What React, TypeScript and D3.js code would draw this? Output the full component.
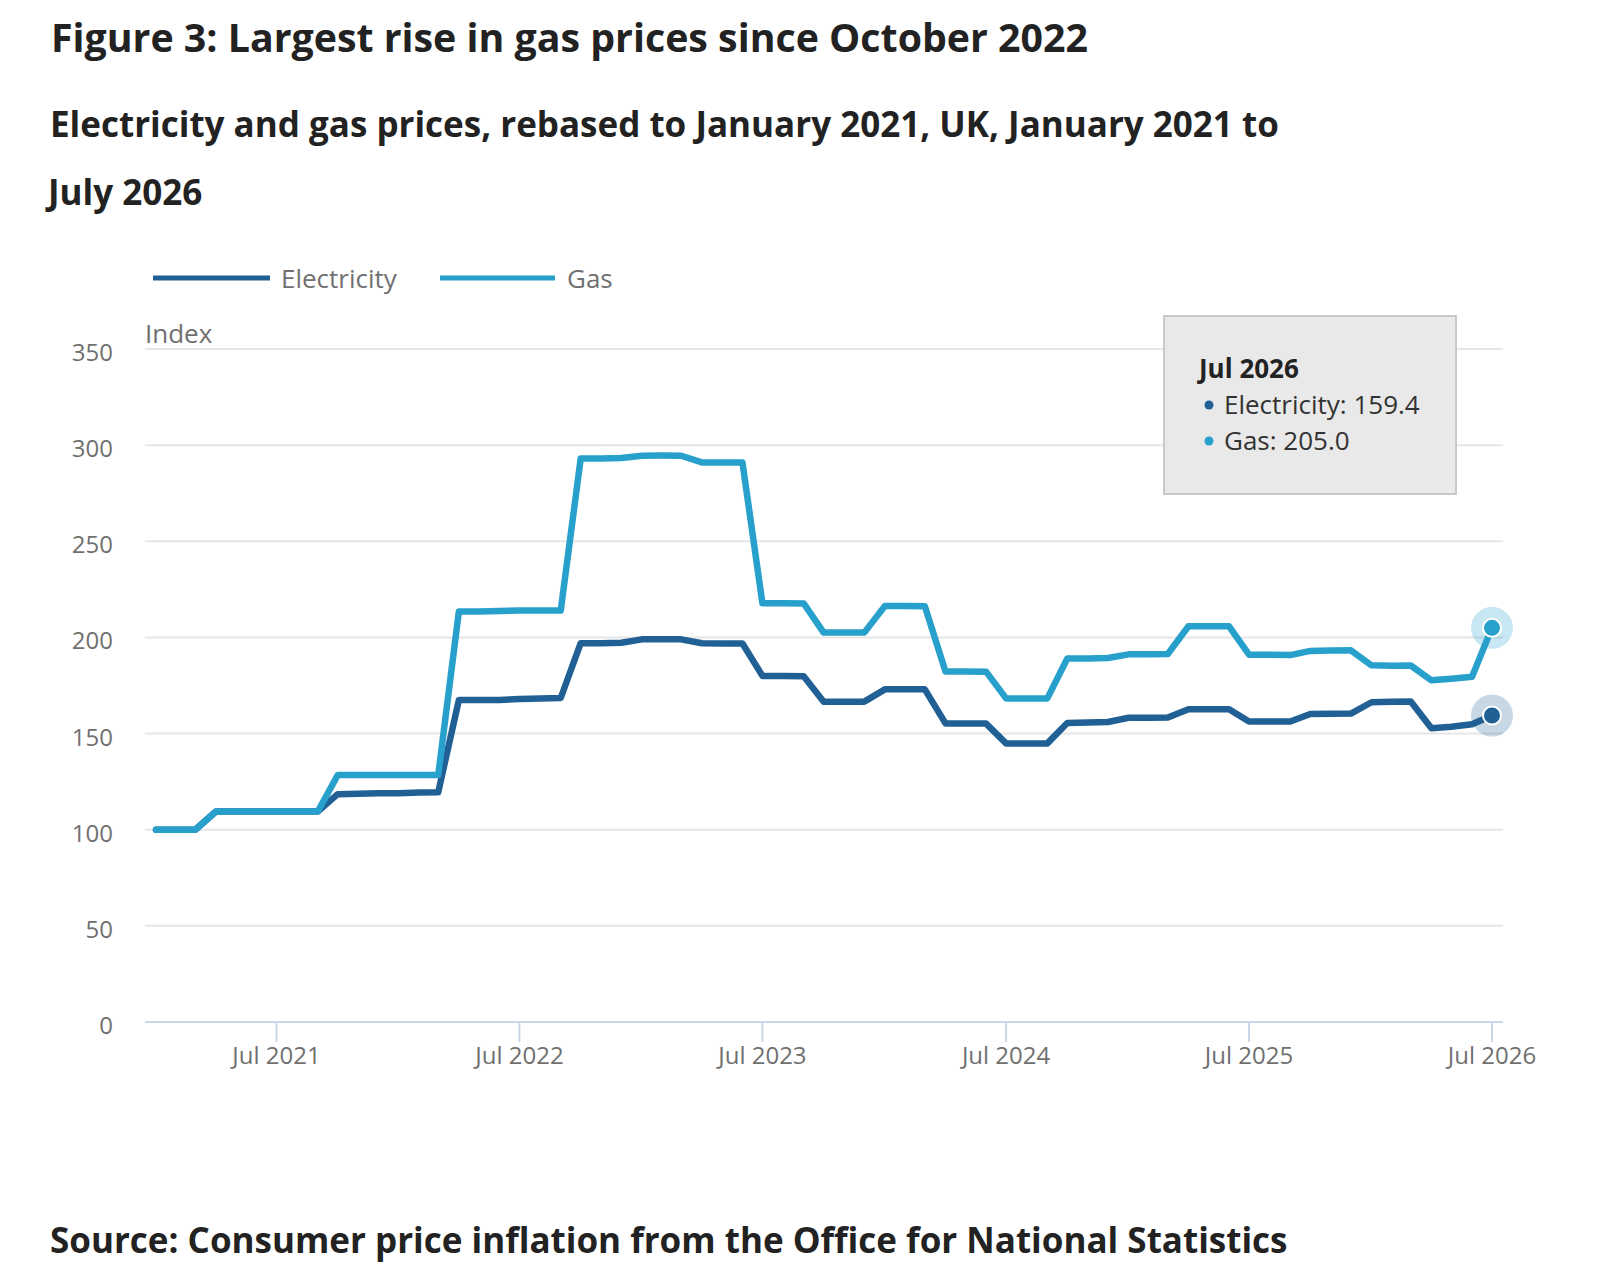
import * as d3 from 'd3'

const START = new Date(2021, 0, 1)
const END = new Date(2026, 6, 1)
const months = d3.timeMonths(START, new Date(2026, 7, 1))

const electricity = [
  100, 100, 100, 109.5, 109.5, 109.5, 109.5, 109.5, 109.5, 118.5, 118.7, 119,
  119, 119.3, 119.5, 167.5, 167.5, 167.5, 168, 168.3, 168.5, 197, 197, 197.2,
  199, 199, 199, 197, 196.8, 196.8, 180, 180, 179.8, 166.6, 166.6, 166.6,
  173, 173, 173, 155.3, 155.3, 155.2, 144.9, 144.9, 144.9, 155.5, 155.7, 156,
  158.2, 158.2, 158.3, 162.7, 162.7, 162.7, 156.3, 156.3, 156.3, 160.2, 160.3, 160.4,
  166.3, 166.5, 166.7, 152.8, 153.6, 154.8, 159.4,
]

const gas = [
  100, 100, 100, 109.5, 109.5, 109.5, 109.5, 109.5, 109.5, 128.4, 128.4, 128.5,
  128.5, 128.5, 128.5, 213.5, 213.5, 213.7, 214, 214, 214, 293, 293, 293.3,
  294.5, 294.6, 294.5, 291, 291, 291, 217.8, 217.8, 217.7, 202.5, 202.5, 202.5,
  216.3, 216.3, 216.2, 182.3, 182.3, 182.2, 168.3, 168.3, 168.3, 189, 189, 189.3,
  191.2, 191.3, 191.4, 205.8, 205.8, 205.8, 191, 191, 190.8, 193, 193.2, 193.3,
  185.5, 185.3, 185.4, 177.7, 178.5, 179.5, 205.0,
]

const yTicks = [0, 50, 100, 150, 200, 250, 300, 350]
const xTicks = [2021, 2022, 2023, 2024, 2025, 2026].map(y => new Date(y, 6, 1))
const xTickLabels = ['Jul 2021', 'Jul 2022', 'Jul 2023', 'Jul 2024', 'Jul 2025', 'Jul 2026']

const series = [
  { name: 'Electricity', values: electricity, color: '#206095', halo: 'rgba(32,96,149,0.25)' },
  { name: 'Gas', values: gas, color: '#27a0cc', halo: 'rgba(39,160,204,0.25)' },
]

const FONT = "'Open Sans', 'Noto Sans', sans-serif"

export default function App() {
  const width = 1597
  const height = 1278
  const plot = { left: 145, right: 1503 }

  const x = d3.scaleTime().domain([START, END]).range([156, 1492])
  const y = d3.scaleLinear().domain([0, 350]).range([1022, 349])

  const line = d3.line<number>()
    .x((_, i) => x(months[i]))
    .y(d => y(d))

  const last = months.length - 1

  return (
    <svg width={width} height={height}
      style={{ position: 'absolute', left: 0, top: 0, display: 'block', background: '#fff' }}
      fontFamily={FONT}>
      <text x={51} y={52} fontSize={39.3} fontWeight={700} fill="#222">
        Figure 3: Largest rise in gas prices since October 2022
      </text>
      <text x={50} y={137} fontSize={35} fontWeight={700} fill="#222">
        Electricity and gas prices, rebased to January 2021, UK, January 2021 to
      </text>
      <text x={48} y={205} fontSize={35} fontWeight={700} fill="#222">
        July 2026
      </text>

      {/* legend */}
      <g>
        <line x1={153} x2={270} y1={278} y2={278} stroke={series[0].color} strokeWidth={5} />
        <text x={281} y={288} fontSize={26} fill="#707070">Electricity</text>
        <line x1={440} x2={555} y1={278} y2={278} stroke={series[1].color} strokeWidth={5} />
        <text x={567} y={288} fontSize={26} fill="#707070">Gas</text>
      </g>

      <text x={145} y={343} fontSize={26} fill="#707070">Index</text>

      {/* grid */}
      {yTicks.filter(t => t > 0).map(t => (
        <line key={t} x1={plot.left} x2={plot.right} y1={y(t)} y2={y(t)} stroke="#e6e6e6" strokeWidth={2} />
      ))}
      {yTicks.map(t => (
        <text key={'l' + t} x={113} y={y(t) + 12} fontSize={24} fill="#707070" textAnchor="end">{t}</text>
      ))}

      {/* x axis */}
      <line x1={plot.left} x2={plot.right} y1={y(0)} y2={y(0)} stroke="#ccd6eb" strokeWidth={2} />
      {xTicks.map((d, i) => (
        <g key={i}>
          <line x1={x(d)} x2={x(d)} y1={y(0)} y2={y(0) + 20} stroke="#ccd6eb" strokeWidth={2} />
          <text x={x(d)} y={y(0) + 42} fontSize={24} fill="#707070" textAnchor="middle">{xTickLabels[i]}</text>
        </g>
      ))}

      {/* lines */}
      {series.map(s => (
        <path key={s.name} d={line(s.values) ?? ''} fill="none" stroke={s.color}
          strokeWidth={6.5} strokeLinejoin="round" strokeLinecap="round" />
      ))}

      {/* hover markers */}
      {series.map(s => (
        <g key={'m' + s.name}>
          <circle cx={x(months[last])} cy={y(s.values[last])} r={21} fill={s.halo} />
          <circle cx={x(months[last])} cy={y(s.values[last])} r={9} fill={s.color} stroke="#fff" strokeWidth={2} />
        </g>
      ))}

      {/* tooltip */}
      <g>
        <rect x={1164} y={316} width={292} height={178} fill="#e9e9e9" stroke="#c9c9c9" strokeWidth={2} />
        <text x={1199} y={378} fontSize={26} fontWeight={700} fill="#222">Jul 2026</text>
        {series.map((s, i) => (
          <g key={'t' + s.name}>
            <circle cx={1209} cy={405 + i * 36} r={4.5} fill={s.color} />
            <text x={1224} y={414 + i * 36} fontSize={26} fill="#333">
              {s.name}: {s.values[last].toFixed(1)}
            </text>
          </g>
        ))}
      </g>

      <text x={50} y={1253} fontSize={35} fontWeight={700} fill="#222">
        Source: Consumer price inflation from the Office for National Statistics
      </text>
    </svg>
  )
}
